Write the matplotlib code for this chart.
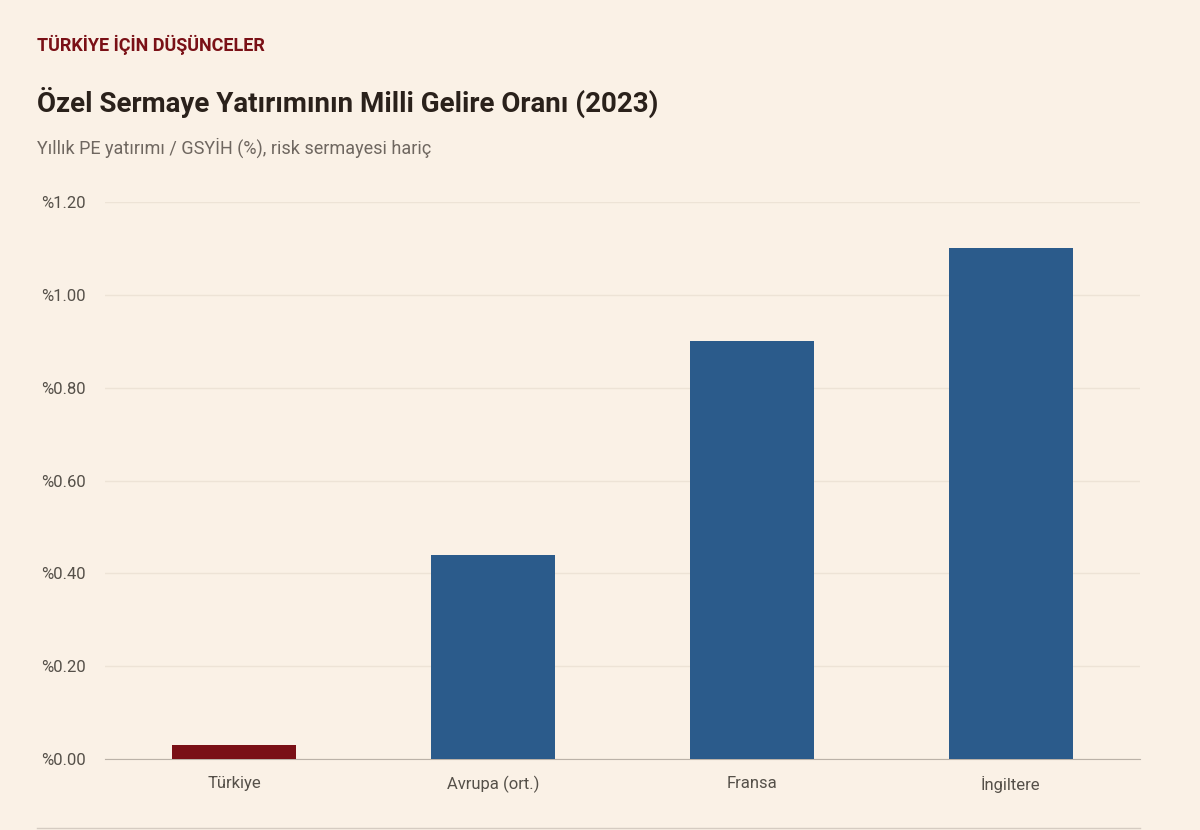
import matplotlib.pyplot as plt
from matplotlib.lines import Line2D

plt.rcParams['font.family'] = ['Roboto', 'DejaVu Sans']

ulkeler = ["Türkiye", "Avrupa (ort.)", "Fransa", "İngiltere"]
oranlar = [0.03, 0.44, 0.90, 1.10]
renkler = ["#7A1016", "#2B5B8B", "#2B5B8B", "#2B5B8B"]
yticks = [0, 0.2, 0.4, 0.6, 0.8, 1.0, 1.2]

bg = "#FAF1E6"
fig = plt.figure(figsize=(12, 8.3), dpi=100, facecolor=bg)
ax = fig.add_axes([0.0875, 0.0855, 0.8625, 0.6711], facecolor=bg)

ax.bar(range(len(ulkeler)), oranlar, width=0.48, color=renkler, zorder=3)
ax.set_xlim(-0.5, 3.5)
ax.set_ylim(0, 1.2)
ax.set_yticks(yticks)
ax.set_yticklabels(["%{:.2f}".format(v) for v in yticks])
ax.set_xticks(range(len(ulkeler)))
ax.set_xticklabels(ulkeler)
ax.tick_params(axis='both', length=0, labelsize=12, colors="#555049")
ax.tick_params(axis='x', pad=12)
ax.tick_params(axis='y', pad=14)
ax.grid(axis='y', color="#EDE3D6", linewidth=1, zorder=0)
for s in ["top", "right", "left"]:
    ax.spines[s].set_visible(False)
ax.spines["bottom"].set_color("#BBB2A8")

fig.text(0.031, 0.946, "TÜRKİYE İÇİN DÜŞÜNCELER", color="#7A1016",
         fontsize=13, fontweight="bold", va="center")
fig.text(0.031, 0.877, "Özel Sermaye Yatırımının Milli Gelire Oranı (2023)",
         color="#2A211B", fontsize=20, fontweight="bold", va="center")
fig.text(0.031, 0.822, "Yıllık PE yatırımı / GSYİH (%), risk sermayesi hariç",
         color="#6F6760", fontsize=13, va="center")
fig.add_artist(Line2D([0.031, 0.95], [0.003, 0.003], color="#D5CCC2", linewidth=1))

plt.savefig("out.png", facecolor=bg)
